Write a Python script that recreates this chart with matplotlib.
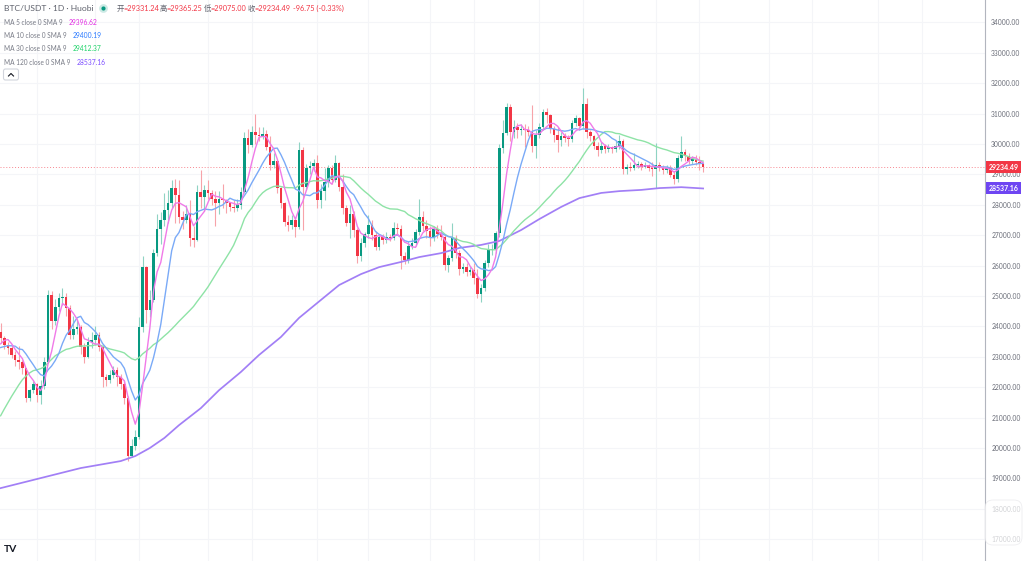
import numpy as np
import matplotlib
matplotlib.use("Agg")
import matplotlib.pyplot as plt
from matplotlib.patches import Rectangle, FancyBboxPatch

plt.rcParams["font.family"] = ["Lato", "Noto Sans CJK SC", "DejaVu Sans"]

W, H = 1024, 561
UP, DOWN = "#089981", "#f23645"
GRID = "#f4f5f8"
TXT = "#787b86"

# ---- data (daily candles, BTC/USDT Huobi) ----
first_open = 23830
closes = [
    23610, 23390, 23280, 23060, 22890, 22840, 22620, 21640, 21900, 22100,
    21750, 22050, 22840, 25030, 24180, 24650, 24930, 24980, 24600, 23710,
    23930, 23990, 23330, 23000, 23500, 23550, 23720, 23330, 22340, 22230,
    22400, 22560, 22340, 22120, 21630, 19750, 20050, 20370, 23990, 25960,
    24540, 24870, 26400, 27200, 27500, 27830, 28050, 28540, 28320, 27610,
    27500, 27700, 26900, 26840, 28430, 28270, 28490, 28380, 28200, 28050,
    28200, 28160, 28050, 27940, 27880, 27990, 28430, 30190, 29970, 30400,
    30300, 30250, 30330, 29910, 29310, 29450, 28540, 28050, 27440, 27340,
    27500, 27280, 29800, 28600, 29200, 29260, 29360, 28160, 28450, 28760,
    29200, 28820, 29360, 28600, 27880, 27400, 27700, 27170, 26300, 26750,
    27050, 27350, 27000, 26600, 26950, 26850, 26950, 26900, 27250, 27200,
    26300, 26200, 26650, 26750, 27100, 27600, 27300, 27150, 26950, 27200,
    27050, 26950, 26020, 26240, 26900, 26400, 25900, 25950, 25800, 25850,
    25600, 25050, 25250, 26070, 26500, 26550, 27060, 29860, 30350, 31230,
    30400, 30550, 30450, 30500, 30450, 30400, 29950, 30300, 30570, 31060,
    30950, 30500, 30300, 30130, 30250, 30200, 30150, 30700, 30850, 30600,
    31300, 30400, 30250, 29950, 29800, 29950, 29850, 29900, 29850, 29950,
    30100, 29180, 29250, 29220, 29300, 29340, 29250, 29300, 29220, 29180,
    29300, 29200, 29150, 29200, 28980, 28850, 29530, 29750, 29600, 29450,
    29500, 29400, 29331.24, 29234.49,
]
highs = [
    24110, 23700, 23480, 23400, 23200, 23350, 22900, 22600, 21950, 22200,
    22150, 22250, 23000, 25200, 25150, 24900, 25100, 25250, 25100, 24700,
    24350, 24200, 24050, 23450, 23650, 23800, 24000, 23800, 23400, 22450,
    22550, 22700, 22650, 22450, 22200, 21700, 20300, 20600, 24300, 26300,
    26000, 25200, 26550, 27700, 27750, 28400, 28500, 28800, 28850, 28800,
    27800, 28000, 28150, 27300, 28650, 29150, 28650, 28800, 28500, 28450,
    28450, 28700, 28200, 28100, 28150, 28200, 28600, 30400, 30500, 30600,
    31000, 30550, 30550, 30450, 30250, 29700, 29500, 28600, 28100, 27650,
    27650, 27600, 30050, 29900, 29350, 29450, 29500, 29640, 28700, 29200,
    29300, 29300, 29650, 29400, 29000, 28000, 28000, 27800, 27250, 26900,
    27100, 27650, 27500, 27150, 27050, 27050, 27100, 27050, 27450, 27400,
    27350, 26450, 26800, 26900, 27200, 28200, 27800, 27500, 27300, 27300,
    27350, 27350, 27000, 26350, 27400, 27000, 26500, 26100, 26100, 26000,
    26100, 25900, 25400, 26200, 26700, 26700, 27150, 30000, 30800, 31350,
    31300, 30800, 30700, 30650, 30650, 30600, 31280, 30450, 30700, 31150,
    31200, 31000, 30600, 30550, 30400, 30350, 30300, 30800, 30950, 30900,
    31850, 31500, 30450, 30300, 30050, 30050, 30000, 30000, 29950, 30100,
    30300, 30150, 29350, 29400, 29700, 29450, 29400, 29400, 29350, 29400,
    30030, 29400, 29300, 29300, 29300, 29100, 29650, 30250, 29850, 29700,
    29600, 29650, 29600, 29365.25,
]
lows = [
    23450, 23250, 23100, 22950, 22700, 22600, 22450, 21500, 21550, 21800,
    21500, 21450, 21950, 22800, 23900, 24050, 24500, 24700, 24350, 23600,
    23600, 23750, 23100, 22800, 22950, 23300, 23400, 23200, 22000, 22050,
    22150, 22300, 22050, 21950, 21450, 19560, 19700, 19950, 20300, 23800,
    24100, 24300, 24800, 26300, 26700, 27300, 27400, 27900, 27400, 27400,
    27200, 27400, 26650, 26600, 26800, 27900, 27800, 28200, 28000, 27300,
    27700, 27900, 27720, 27800, 27750, 27800, 27850, 28400, 29700, 29900,
    30000, 30100, 30150, 29800, 29150, 29200, 28400, 27900, 27300, 27150,
    27200, 26950, 27200, 27170, 28500, 29000, 29100, 27900, 27900, 28150,
    28600, 28700, 28750, 28450, 27700, 27300, 26900, 26950, 26100, 26150,
    26600, 26900, 26850, 26500, 26500, 26700, 26750, 26800, 26850, 27000,
    25900, 26050, 26100, 26550, 26650, 27000, 27150, 26900, 26650, 26800,
    26900, 26850, 25850, 25800, 26150, 26250, 25700, 25750, 25650, 25700,
    25400, 24950, 24800, 25150, 25950, 26350, 26400, 26950, 29700, 30300,
    30100, 30200, 30200, 30300, 29900, 30250, 29750, 29550, 30200, 30450,
    30700, 30350, 30050, 29750, 29950, 30050, 29950, 30050, 30600, 30450,
    30500, 30200, 30100, 29850, 29600, 29700, 29700, 29750, 29700, 29750,
    29850, 29000, 29000, 29100, 29150, 29200, 29150, 29200, 29100, 28950,
    28550, 29100, 29000, 29050, 28900, 28700, 28750, 29450, 29450, 29350,
    29350, 29300, 29150, 29075.00,
]
# closes of the 29 days before the first visible candle (for the MA warm-up)
warm_closes = [
    16830, 16950, 16950, 17090, 17190, 17440, 17940, 18850, 19930, 20950,
    20870, 21180, 21130, 20680, 21070, 22670, 22780, 22710, 22920, 22630,
    23060, 23010, 23080, 23030, 23740, 22830, 23130, 23730, 23830,
]
# MA 120 (candle index, value)
ma120_idx = [0, 11, 22, 33, 37, 41, 45, 49, 55, 60, 66, 71, 77, 82, 88, 93,
             99, 104, 110, 115, 121, 126, 132, 137, 143, 148, 154, 159, 165,
             170, 176, 181, 187, 193]
ma120_val = [18680, 19010, 19340, 19570, 19735, 20000, 20330, 20750, 21310,
             21900, 22500, 23060, 23650, 24280, 24870, 25360, 25720, 25950,
             26120, 26280, 26410, 26580, 26680, 26810, 27170, 27530, 27930,
             28220, 28390, 28450, 28490, 28550, 28580, 28537.16]
# vertical grid (candle index of date lines)
vgrid_idx = [10, 26, 38, 57, 69, 87, 101, 118, 130, 148, 160, 180, 192,
             211, 223, 241, 253]
price_ticks = list(range(17000, 34001, 1000))

legend_rows = [("MA 5 close 0 SMA 9", "29396.62", "#e32ee3", 69),
               ("MA 10 close 0 SMA 9", "29400.19", "#2979ff", 73),
               ("MA 30 close 0 SMA 9", "29412.37", "#1fd36a", 73),
               ("MA 120 close 0 SMA 9", "28537.16", "#7c4dff", 77)]
last_price = 29234.49


def sma(vals, n):
    return np.convolve(vals, np.ones(n) / n, mode="valid")


closes_a = np.array(closes, float)
opens_a = np.array([first_open] + closes[:-1], float)
highs_a, lows_a = np.array(highs, float), np.array(lows, float)
idx = np.arange(len(closes))
all_c = np.array(warm_closes + closes, float)
n = len(closes)
ma5 = sma(all_c, 5)[-n:]
ma10 = sma(all_c, 10)[-n:]
ma30 = sma(all_c, 30)[-n:]

fig = plt.figure(figsize=(W / 100, H / 100), dpi=100)
ax = fig.add_axes([0, 0, 985 / W, 1])
px = 3.64  # pixels per candle
x_left = -0.6 / px
ax.set_xlim(x_left, x_left + 985 / px)
ax.set_ylim(30000 - (H - 144) / 0.0304, 30000 + 144 / 0.0304)

for s in ["top", "left", "bottom"]:
    ax.spines[s].set_visible(False)
ax.spines["right"].set_color("#b2b5be")
ax.spines["right"].set_linewidth(0.8)
ax.set_xticks([])
ax.yaxis.tick_right()
ax.set_yticks(price_ticks)
ax.set_yticklabels([f"{v:.2f}" for v in price_ticks])
ax.tick_params(axis="y", length=0, pad=4.5, labelsize=4.9, labelcolor="#6a6d78")
for v in price_ticks:
    ax.axhline(v, color=GRID, lw=0.8, zorder=0)
for v in vgrid_idx:
    ax.axvline(v, color=GRID, lw=0.8, zorder=0)

up = closes_a >= opens_a
body_col = np.where(up, UP, DOWN)
wick_col = np.where(up, "#8fd3c3", "#f7a3a9")
ax.vlines(idx, lows_a, highs_a, colors=wick_col, lw=0.8, zorder=2)
bottoms = np.minimum(opens_a, closes_a)
heights = np.maximum(np.abs(closes_a - opens_a), 35)
ax.bar(idx, heights, bottom=bottoms, width=0.72, color=body_col, lw=0, zorder=3)

ax.plot(ma120_idx, ma120_val, color="#a27ff6", lw=1.25, zorder=4)
ax.plot(idx, ma30, color="#8ee3a6", lw=1.0, zorder=4)
ax.plot(idx, ma10, color="#7aaaf7", lw=1.0, zorder=4)
ax.plot(idx, ma5, color="#f07ae8", lw=1.0, zorder=4)
ax.axhline(last_price, color=DOWN, lw=0.7, ls=(0, (1, 2)), alpha=0.6, zorder=1)

# ---- overlay in pixel coordinates for header, legend and price tags ----
ov = fig.add_axes([0, 0, 1, 1])
ov.set_xlim(0, W)
ov.set_ylim(H, 0)
ov.axis("off")
ov.patch.set_alpha(0)

ov.text(4, 8, "BTC/USDT · 1D · Huobi", color="#5d606b", fontsize=6.1, va="center")
ov.scatter([103], [8], s=40, color="#089981", alpha=0.2, lw=0)
ov.scatter([103], [8], s=9, color="#089981", lw=0)
for xl, lab, val in [(117, "开", "=29331.24"), (160, "高", "=29365.25"),
                     (204, "低", "=29075.00"), (248, "收", "=29234.49")]:
    ov.text(xl, 8, lab, color="#5d606b", fontsize=5.3, va="center")
    ov.text(xl + 6.8, 8, val, color=DOWN, fontsize=5.3, va="center")
ov.text(293, 8, "-96.75 (-0.33%)", color=DOWN, fontsize=5.3, va="center")

for i, (lab, val, col, xv) in enumerate(legend_rows):
    y = 22.5 + i * 13.2
    ov.text(4, y, lab, color=TXT, fontsize=4.7, va="center")
    ov.text(xv, y, val, color=col, fontsize=4.9, va="center")

ov.add_patch(FancyBboxPatch((3.5, 69), 15, 11, boxstyle="round,pad=0,rounding_size=2",
                            fc="white", ec="#d1d4dc", lw=0.8))
ov.plot([8.5, 11, 13.5], [76, 73.5, 76], color="#131722", lw=0.8)

for yv, txt, col in [(167, "29234.49", DOWN), (188, "28537.16", "#6e45f2")]:
    ov.add_patch(Rectangle((986, yv - 6), 35, 12, color=col, lw=0))
    ov.text(1003.5, yv, txt, color="white", fontsize=5.0, ha="center", va="center",
            fontweight="bold")

# faint overlay at the bottom right, as in the screenshot
ov.add_patch(FancyBboxPatch((985, 500), 37, 45, boxstyle="round,pad=0,rounding_size=8",
                            fc="white", ec="#e6e6ea", lw=0.6, alpha=0.7))
ov.text(4, 550, "TV", color="#131722", fontsize=7.5, fontweight="bold", va="center")

fig.savefig("out.png", dpi=100)
